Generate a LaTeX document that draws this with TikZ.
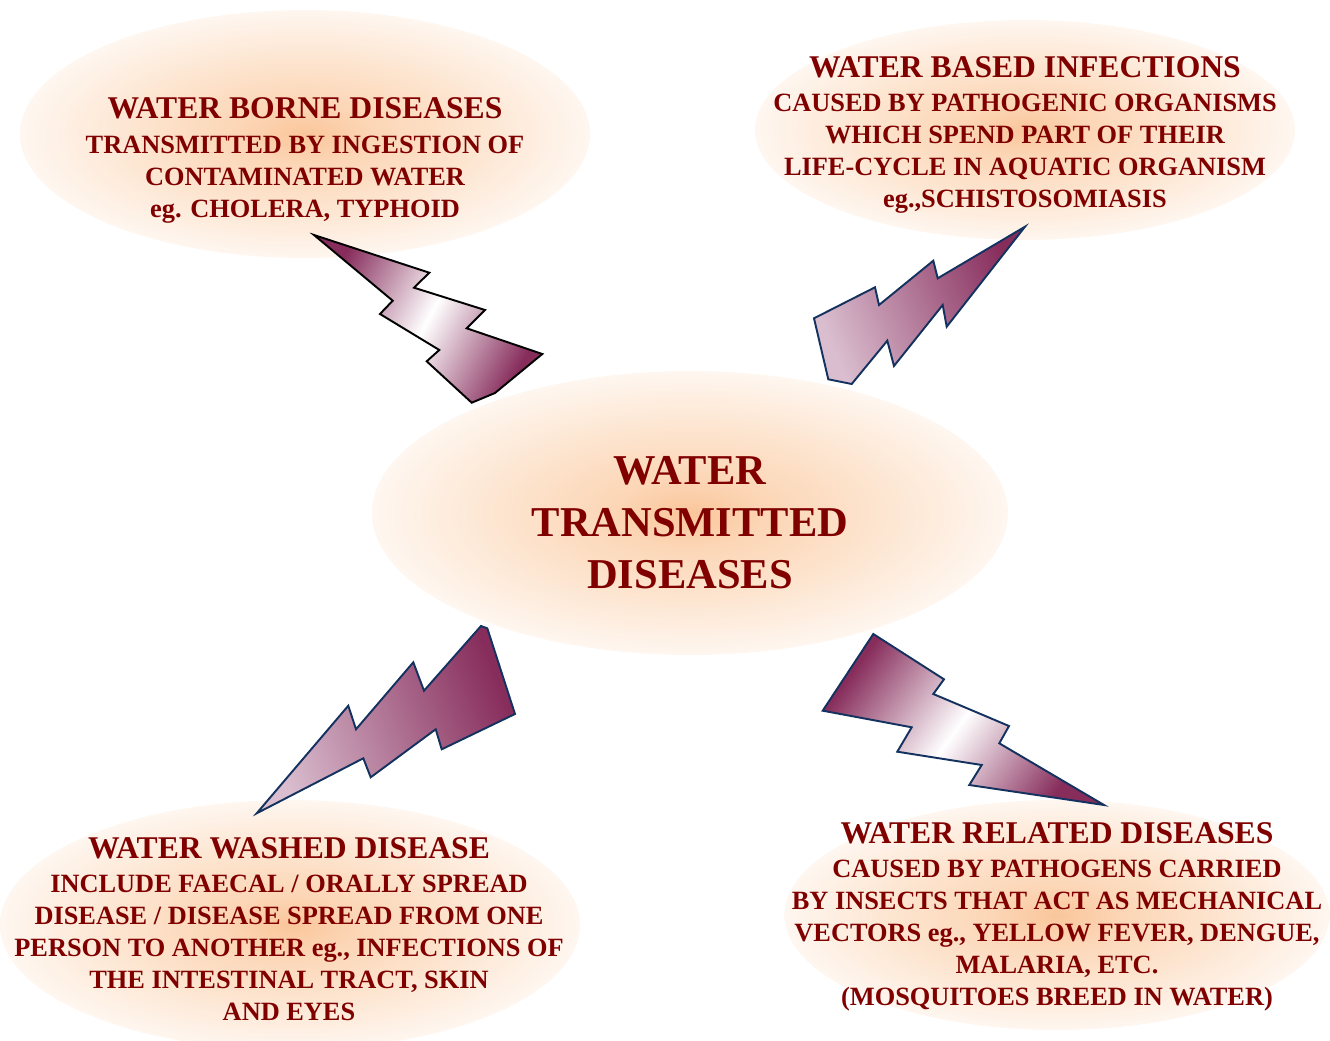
\documentclass[tikz,border=0pt]{standalone}
\usepackage{fontspec}
\setmainfont{Liberation Serif}
\usepackage{xcolor}
\usetikzlibrary{shapes.geometric}

\definecolor{txtred}{RGB}{128,0,0}
\definecolor{boltdark}{RGB}{135,45,92}
\definecolor{boltlight}{RGB}{218,190,207}
\definecolor{boltedge}{RGB}{20,50,95}
\definecolor{glowin}{RGB}{250,198,155}
\definecolor{glowmid}{RGB}{252,214,182}
\definecolor{glowsoft}{RGB}{253,229,208}
\definecolor{glowout}{RGB}{254,241,230}
\pgfdeclareradialshading{glow}{\pgfpoint{0bp}{0bp}}{color(0bp)=(glowin); color(6bp)=(glowmid); color(15bp)=(glowsoft); color(22bp)=(glowout); color(25bp)=(glowout!60!white); color(50bp)=(white)}

\newcommand{\titlesize}{\fontsize{18}{21}\selectfont}

\begin{document}
\begin{tikzpicture}[x=0.02cm,y=-0.02cm,
    blob/.style={ellipse,inner sep=0pt,shading=glow},
    txt/.style={anchor=north,align=center,inner sep=0pt,text=txtred,
      font=\bfseries\fontsize{15}{18.2}\selectfont},
    bolt/.style={line width=1.1pt,draw=boltedge,line join=miter}]
  \useasboundingbox (0,0) rectangle (1330,1041);
  % clouds
  \node[blob,minimum width=11.4cm,minimum height=4.96cm] (borne) at (305,134) {};
  \node[blob,minimum width=10.8cm,minimum height=4.4cm] (based) at (1025,130) {};
  \node[blob,minimum width=12.72cm,minimum height=5.68cm] (centre) at (690,513) {};
  \node[blob,minimum width=11.6cm,minimum height=5cm] (washed) at (290,925) {};
  \node[blob,minimum width=10.9cm,minimum height=4.6cm] (related) at (1057,915) {};
  % bolts
  \filldraw[bolt,draw=black,top color=boltdark,bottom color=boltdark,middle color=white,shading angle=62]
    (314,235) -- (429.3,272.7) -- (414,287.7) -- (485,310) -- (466.7,328.3)
    -- (542.3,354) -- (495,393) -- (471.7,402.7) -- (426.7,361.3) -- (439.3,350)
    -- (380,314) -- (392.7,300.7) -- cycle;
  \filldraw[bolt,top color=boltlight,bottom color=boltdark,shading angle=113]
    (1025,226.7) -- (946.7,326.7) -- (942.7,305) -- (894,366) -- (887.3,340.7)
    -- (851.7,384) -- (828.3,379.3) -- (814,318.3) -- (875,287.3) -- (879,305)
    -- (933.3,260.7) -- (937.7,278.3) -- cycle;
  \filldraw[bolt,top color=boltlight,bottom color=boltdark,shading angle=111]
    (256.7,813.3) -- (348.3,705.7) -- (356,729.3) -- (413.3,662.3) -- (424,690.7)
    -- (481,626) -- (487.3,628.3) -- (515,714) -- (441.7,749.3) -- (435.7,729.3)
    -- (370.7,777.3) -- (363.3,758.3) -- cycle;
  \filldraw[bolt,top color=boltdark,bottom color=boltdark,middle color=white,shading angle=54]
    (873.3,634) -- (944,679.3) -- (933.3,694) -- (1009,726) -- (999.3,743.3)
    -- (1104,805) -- (969.3,785) -- (981.7,765) -- (897.3,751.7) -- (911.7,727.3)
    -- (822.7,710.7) -- cycle;
  % texts
  \node[txt] (borneT) at (305,97) {{\titlesize WATER BORNE DISEASES}\\[1.7pt]
    TRANSMITTED BY INGESTION OF\\ CONTAMINATED WATER\\ eg. CHOLERA, TYPHOID};
  \node[txt] (basedT) at (1025,56) {{\titlesize WATER BASED INFECTIONS}\\[1.2pt]
    CAUSED BY PATHOGENIC ORGANISMS\\ WHICH SPEND PART OF THEIR\\
    LIFE-CYCLE IN AQUATIC ORGANISM\\ eg.,SCHISTOSOMIASIS};
  \node[txt,font=\bfseries\fontsize{24.2}{29.6}\selectfont] (centreT) at (690,456)
    {WATER\\ TRANSMITTED\\ DISEASES};
  \node[txt] (washedT) at (289,837) {{\titlesize WATER WASHED DISEASE}\\[1.2pt]
    INCLUDE FAECAL / ORALLY SPREAD\\ DISEASE / DISEASE SPREAD FROM ONE\\
    PERSON TO ANOTHER eg., INFECTIONS OF\\ THE INTESTINAL TRACT, SKIN\\ AND EYES};
  \node[txt] (relatedT) at (1057,822) {{\titlesize WATER RELATED DISEASES}\\[1.2pt]
    CAUSED BY PATHOGENS CARRIED\\ BY INSECTS THAT ACT AS MECHANICAL\\
    VECTORS eg., YELLOW FEVER, DENGUE,\\ MALARIA, ETC.\\ (MOSQUITOES BREED IN WATER)};
\end{tikzpicture}
\end{document}
